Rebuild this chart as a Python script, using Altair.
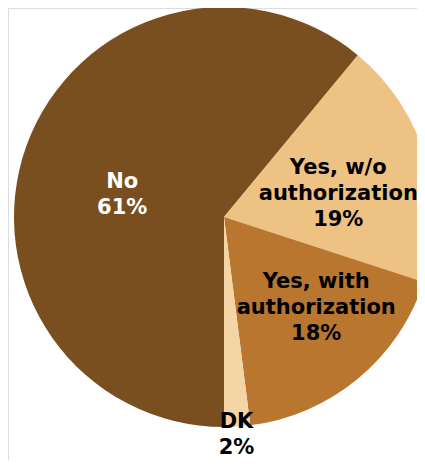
import math
import altair as alt
import pandas as pd

categories = ["No", "Yes, w/o authorization", "Yes, with authorization", "DK"]
label_lines = ["No", "Yes, w/o\nauthorization", "Yes, with\nauthorization", "DK"]
values = [61, 19, 18, 2]
colors = ["#7A4F20", "#EDC283", "#B8762F", "#F5D4A5"]

df = pd.DataFrame({
    "category": categories,
    "label": [f"{l}\n{v}%" for l, v in zip(label_lines, values)],
    "value": values,
    "order": list(range(len(categories))),
})

CX, CY = 216, 209

base = alt.Chart(df).encode(
    theta=alt.Theta("value:Q", stack=True,
                    scale=alt.Scale(range=[math.pi, 3 * math.pi])),
    order=alt.Order("order:Q"),
)

arcs = base.mark_arc(radius=210).encode(
    color=alt.Color("category:N", scale=alt.Scale(domain=categories, range=colors), legend=None),
    x=alt.value(CX),
    y=alt.value(CY),
)

def per_cat(a, b, c, d):
    return (f"datum.category == 'No' ? {a} : datum.category == 'Yes, w/o authorization' ? {b} : "
            f"datum.category == 'Yes, with authorization' ? {c} : {d}")

color_enc = alt.when(alt.datum.category == "No").then(alt.value("white")).otherwise(alt.value("black"))

texts = base.mark_text(
    font="DejaVu Sans", fontSize=21, fontWeight="bold", lineHeight=26,
    align="center", baseline="middle", lineBreak="\n",
    radius=alt.expr(per_cat(104, 119, 129, 231)),
    dx=alt.expr(per_cat(-4, 0, 10, -2)),
    dy=alt.expr(per_cat(0, -16, -34, -26)),
).encode(
    text="label:N",
    color=color_enc,
    x=alt.value(CX),
    y=alt.value(CY),
)

chart = alt.layer(arcs, texts).properties(
    width=409, height=452, padding=0, autosize="none"
).configure_view(strokeWidth=0, stroke="transparent").configure(background="white")

chart.save("out.html", embed_options={"renderer": "svg", "actions": False})
